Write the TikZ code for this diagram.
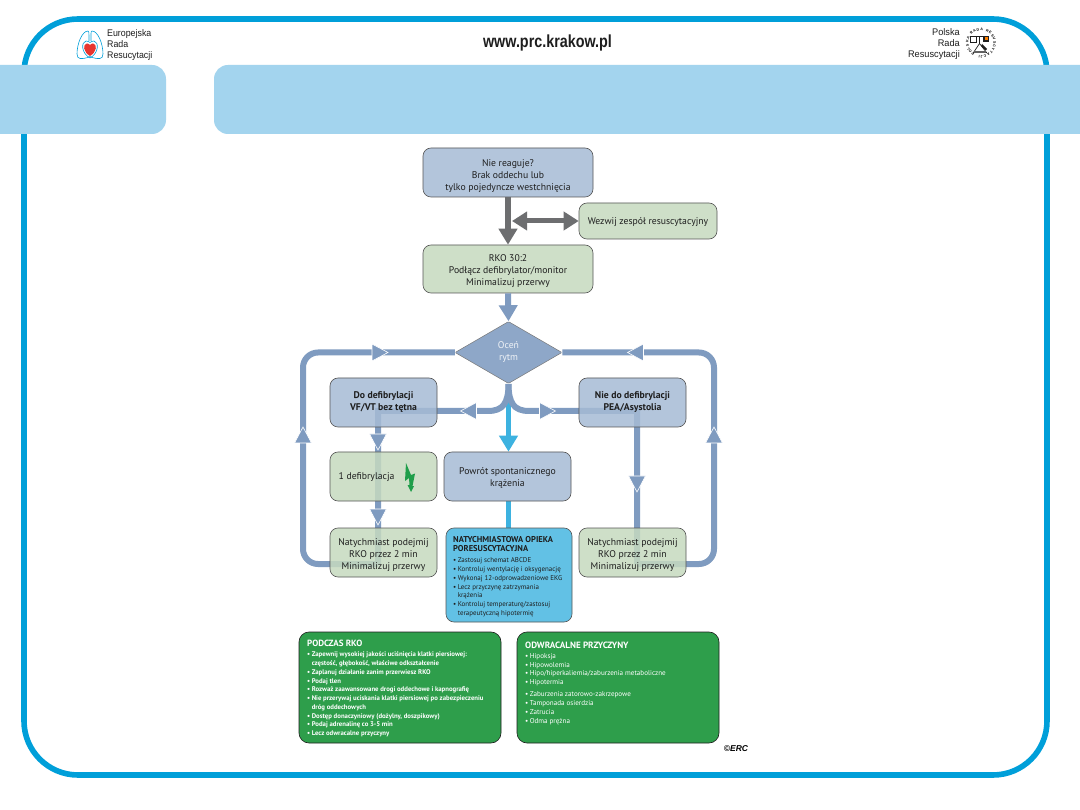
\documentclass[tikz,border=0pt]{standalone}
\usepackage{fontspec}
\setmainfont{PT Sans}
\newfontfamily\headfont{Liberation Sans}
\usetikzlibrary{arrows.meta,shapes.geometric,backgrounds,decorations.text}
\definecolor{frameblue}{HTML}{009FD9}
\definecolor{barblue}{HTML}{A3D4EE}
\definecolor{flow}{HTML}{7F9BC0}
\definecolor{flowgrey}{HTML}{6D6E70}
\definecolor{skyflow}{HTML}{3DB2E0}
\definecolor{boxblue}{HTML}{A6BBD5}
\definecolor{boxgreen}{HTML}{C6DABF}
\definecolor{careblue}{HTML}{62C1E5}
\definecolor{listgreen}{HTML}{2E9E4B}
\definecolor{inkdark}{HTML}{1E1E1E}
\definecolor{heartred}{HTML}{E8352E}
\definecolor{boltgreen}{HTML}{1F9E4A}
\tikzset{
  x=1pt,y=-1pt,
  stepbox/.style={rectangle,rounded corners=8pt,draw=inkdark!75,line width=.6pt,
    fill opacity=.85,text opacity=1,draw opacity=1,inner sep=0pt,align=center,
    text=inkdark,font=\fontsize{9.7}{12}\selectfont},
  bluebox/.style={stepbox,fill=boxblue},
  greenbox/.style={stepbox,fill=boxgreen},
  listbox/.style={rectangle,rounded corners=10pt,draw=inkdark,line width=.6pt,fill=listgreen,inner sep=0pt},
  carebox/.style={rectangle,rounded corners=8pt,draw=inkdark!75,line width=.6pt,fill=careblue,inner sep=0pt},
  listtext/.style={anchor=north west,align=left,inner sep=0pt,text=white},
  flowline/.style={draw=flow,line width=6pt},
  bigtip/.style={-{Triangle[length=16pt,width=18pt]}},
  tiplabel/.style={inner sep=0pt,align=left,text=inkdark,font=\headfont\fontsize{9.6}{11}\selectfont},
}
% triangular marker sitting on a flow line: x, y, direction
\newcommand{\flowtip}[3]{\filldraw[fill=flow,draw=white,line width=.6pt,shift={(#1,#2)},rotate=#3]
  (-8,-8.5)--(8,0)--(-8,8.5)--cycle;}
\newcommand{\li}[1]{\makebox[4.6pt][l]{•}#1}
\newcommand{\lic}[1]{\hspace*{4.6pt}#1}
\newcommand{\headline}[2]{{\bfseries\fontsize{#1}{10}\selectfont #2}}
% taller first line, which lowers a centred text block a little
\newcommand{\dn}[1]{\rule{0pt}{#1pt}}
\begin{document}
\begin{tikzpicture}
\useasboundingbox (0,0) rectangle (1080,810);
\begin{scope}[on background layer]
  \fill[white] (0,0) rectangle (1080,810);
\end{scope}

% outer frame and header bars
\draw[frameblue,line width=5.6pt,rounded corners=54pt] (24,19) rectangle (1047,775);
\fill[barblue,rounded corners=14pt] (-30,65) rectangle (166,134);
\fill[barblue,rounded corners=14pt] (214,65) rectangle (1110,134);

% header text
\node[font=\headfont\bfseries\fontsize{17.5}{20}\selectfont,xscale=.82,text=inkdark] (site) at (547.5,43) {www.prc.krakow.pl};
\node[tiplabel,anchor=west,xscale=.92] (erctext) at (107,45) {Europejska\\Rada\\Resucytacji};
\node[tiplabel,anchor=east,align=right,xscale=.96] (prctext) at (960,44) {Polska\\Rada\\Resuscytacji};

% lungs emblem
\begin{scope}[frameblue,line width=.6pt]
  \draw (88,31) .. controls (82,31) and (77,44) .. (77,54) .. controls (77,60) and (82,59) .. (88,57.5) -- (90,56.5) -- (92,57.5)
        .. controls (98,59) and (103,60) .. (103,54) .. controls (103,44) and (98,31) .. (92,31)
        .. controls (91,31) and (91,32) .. (91,36) -- (91,41);
  \draw (88,31) .. controls (89,31) and (89,33) .. (89,36) -- (89,41);
  \draw (90,58) .. controls (81,53) and (81,42) .. (86,41) .. controls (88,41) and (89,42) .. (90,42.5)
        .. controls (91,42) and (92,41) .. (94,41) .. controls (99,42) and (99,53) .. (90,58);
\end{scope}
\fill[heartred] (90,56) .. controls (83,52) and (82.5,44) .. (87,43.5) .. controls (89,43.5) and (90,44.5) .. (90,45.5)
        .. controls (90,44.5) and (91,43.5) .. (93,43.5) .. controls (97.5,44) and (97,52) .. (90,56);

% round society emblem
\path[decorate,decoration={text along path,text={|\headfont\bfseries\fontsize{3.6}{4}\selectfont|POLSKA RADA RESUSCYTACJI},text align={fit to path}}]
  (974.75,53.83) arc[start angle=120,end angle=460,radius=12.5];
\draw[inkdark,line width=.7pt] (970,36.5) -- (989,36.5);
\draw[inkdark,fill=white,line width=.6pt] (970.5,36.5) rectangle (976,42);
\fill[inkdark] (983,36) rectangle (989,42);
\fill[orange] (984.5,37.5) rectangle (987.5,40.5);
\draw[inkdark,line width=.9pt] (979.5,36.5) -- (979.5,44);
\draw[inkdark,fill=white,line width=.7pt] (979.5,43.5) -- (973.5,52.5) -- (986.5,52.5) -- cycle;
\fill[inkdark] (982,44) -- (987,49) -- (985.5,50.5) -- (981,46) -- cycle;
\fill[inkdark!70] (974,51.5) rectangle (986,53.5);

% flowchart boxes
\node[bluebox,minimum width=170pt,minimum height=49pt] (unresp) at (508,172.5) {\dn{15}Nie reaguje?\\Brak oddechu lub\\tylko pojedyncze westchnięcia};
\node[greenbox,minimum width=138pt,minimum height=36pt] (team) at (648,221) {\dn{10}Wezwij zespół resuscytacyjny};
\node[greenbox,minimum width=170pt,minimum height=48pt] (cpr) at (508,269) {\dn{11}RKO 30:2\\Podłącz defibrylator/monitor\\Minimalizuj przerwy};
\node[shape=diamond,aspect=1.726,minimum width=107pt,minimum height=62pt,inner sep=0pt,fill=flow!88!white,draw=inkdark!60,
      line width=.5pt,rounded corners=1pt,align=center,text=white!88!flow,font=\fontsize{9.7}{12}\selectfont] (rhythm) at (508.5,352.5) {Oceń\\rytm};
\node[bluebox,font=\bfseries\fontsize{9.7}{12}\selectfont,minimum width=107pt,minimum height=49pt] (shock) at (383.5,402.5) {Do defibrylacji\\VF/VT bez tętna};
\node[bluebox,font=\bfseries\fontsize{9.7}{12}\selectfont,minimum width=107pt,minimum height=49pt] (noshock) at (632.5,402.5) {Nie do defibrylacji\\PEA/Asystolia};
\node[greenbox,minimum width=107pt,minimum height=49pt] (onedef) at (383.5,476.5) {};
\node[anchor=west,inner sep=0pt,text=inkdark,font=\fontsize{9.7}{12}\selectfont] (onedeflabel) at (338.5,477.5) {1 defibrylacja};
\node[bluebox,minimum width=127pt,minimum height=49pt] (rosc) at (507.5,476.5) {\dn{10}Powrót spontanicznego\\krążenia};
\node[greenbox,minimum width=107pt,minimum height=49pt] (resumeL) at (383.5,552.5) {\dn{12}Natychmiast podejmij\\RKO przez 2 min\\Minimalizuj przerwy};
\node[greenbox,minimum width=107pt,minimum height=49pt] (resumeR) at (632.5,552.5) {\dn{12}Natychmiast podejmij\\RKO przez 2 min\\Minimalizuj przerwy};
\node[carebox,minimum width=126pt,minimum height=94pt] (care) at (509,575) {};
\node[listbox,minimum width=202pt,minimum height=111pt] (during) at (400,687.5) {};
\node[listbox,minimum width=202pt,minimum height=111pt] (causes) at (618,687.5) {};

% lightning symbol
\fill[boltgreen] (406,463) -- (411,475) -- (415,473.5) -- (412.5,486) -- (414,486) -- (411,492) -- (407.5,485) -- (409.5,485)
   -- (409,478) -- (405,481) -- cycle;

% waypoints of the flow lines
\coordinate (splitL) at (488,411);
\coordinate (splitR) at (529,411);
\coordinate (turnL) at (378,411);
\coordinate (turnR) at (637,411);
\coordinate (endL) at (378,564);
\coordinate (endR) at (637,564);
\coordinate (sideL) at (303,564);
\coordinate (sideR) at (714,564);
\coordinate (topL) at (303,352.5);
\coordinate (topR) at (714,352.5);
\coordinate (rhythmout) at (508.5,384);
\coordinate (skystart) at (508.5,400);

% flow lines run beneath the translucent boxes
\begin{scope}[on background layer]
  \draw[skyflow,line width=5pt,bigtip] (skystart) -- (rosc.north -| skystart);
  \draw[skyflow,line width=5pt] (rosc.south -| skystart) -- (care.north -| skystart);
  \draw[flowline] (rhythmout) .. controls (508.5,403) and (503,411) .. (splitL) -- (turnL) -- (endL);
  \draw[flowline] (rhythmout) .. controls (508.5,403) and (514,411) .. (splitR) -- (turnR) -- (endR);
  \draw[flowline,rounded corners=15pt] (rhythm.west) -- (topL) -- (sideL) -- (endL);
  \draw[flowline,rounded corners=15pt] (rhythm.east) -- (topR) -- (sideR) -- (endR);
\end{scope}

% heavy arrows between the upper boxes
\draw[flowgrey,line width=6pt,bigtip] (unresp.south) -- (cpr.north);
\coordinate (trunk) at (512,221);
\draw[flowgrey,line width=5pt,{Triangle[length=15pt,width=18pt]}-{Triangle[length=15pt,width=18pt]}] (trunk) -- (team.west);
\draw[flow,line width=6pt,bigtip] (cpr.south) -- (rhythm.north);

% markers along the flow lines
\flowtip{380}{352.5}{0}
\flowtip{635.5}{352.5}{180}
\flowtip{468.5}{411}{180}
\flowtip{547.5}{411}{0}
\flowtip{378}{442}{-90}
\flowtip{378}{517}{-90}
\flowtip{637}{484}{-90}
\flowtip{303}{435}{90}
\flowtip{714}{435}{90}

% list panels
\node[listtext,text=inkdark,font=\fontsize{6.95}{8.8}\selectfont] (caretext) at (453,536.5) {%
  \headline{8.5}{NATYCHMIASTOWA OPIEKA}\\
  \headline{8.5}{PORESUSCYTACYJNA}\\[2.4pt]
  \li{Zastosuj schemat ABCDE}\\
  \li{Kontroluj wentylację i oksygenację}\\
  \li{Wykonaj 12-odprowadzeniowe EKG}\\
  \li{Lecz przyczynę zatrzymania}\\
  \lic{krążenia}\\
  \li{Kontroluj temperaturę/zastosuj}\\
  \lic{terapeutyczną hipotermię}};
\node[listtext,font=\fontsize{6.75}{8.75}\selectfont\bfseries] (duringtext) at (307,640) {%
  \headline{9}{PODCZAS RKO}\\[1.5pt]
  \li{Zapewnij wysokiej jakości uciśnięcia klatki piersiowej:}\\
  \lic{częstość, głębokość, właściwe odkształcenie}\\
  \li{Zaplanuj działanie zanim przerwiesz RKO}\\
  \li{Podaj tlen}\\
  \li{Rozważ zaawansowane drogi oddechowe i kapnografię}\\
  \li{Nie przerywaj uciskania klatki piersiowej po zabezpieczeniu}\\
  \lic{dróg oddechowych}\\
  \li{Dostęp donaczyniowy (dożylny, doszpikowy)}\\
  \li{Podaj adrenalinę co 3-5 min}\\
  \li{Lecz odwracalne przyczyny}};
\node[listtext,font=\fontsize{7.1}{8.75}\selectfont] (causestext) at (525,641.5) {%
  \headline{9.1}{ODWRACALNE PRZYCZYNY}\\[1.4pt]
  \li{Hipoksja}\\
  \li{Hipowolemia}\\
  \li{Hipo/hiperkaliemia/zaburzenia metaboliczne}\\
  \li{Hipotermia}\\[3.6pt]
  \li{Zaburzenia zatorowo-zakrzepowe}\\
  \li{Tamponada osierdzia}\\
  \li{Zatrucia}\\
  \li{Odma prężna}};
\node[inner sep=0pt,text=black,font=\headfont\bfseries\itshape\fontsize{8.5}{10}\selectfont] (copyright) at (736,749) {©ERC};
\end{tikzpicture}
\end{document}
